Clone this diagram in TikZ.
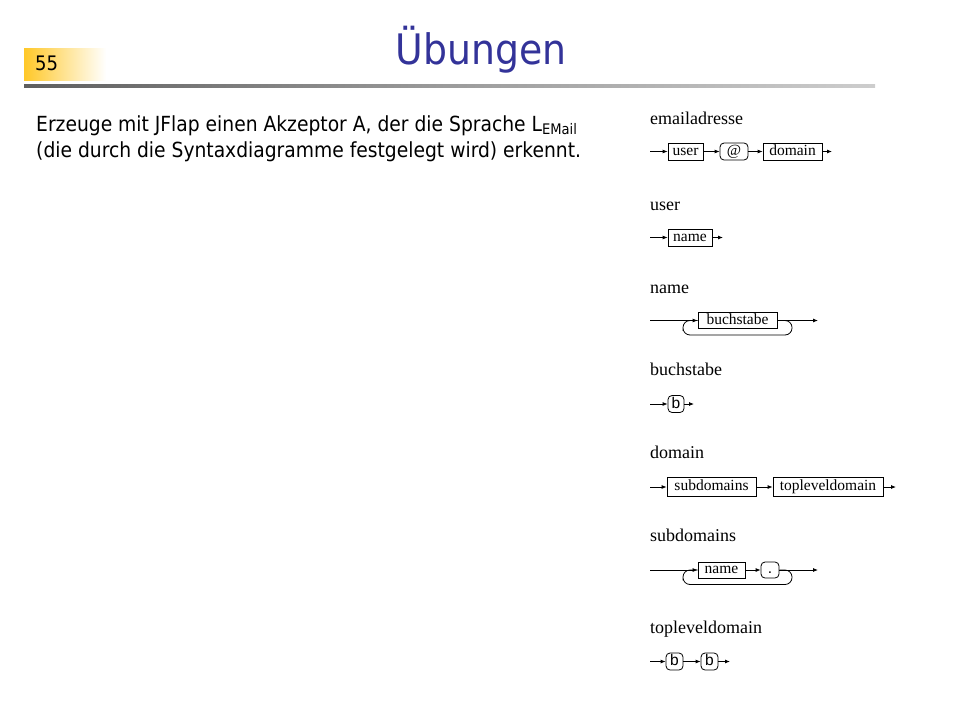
\documentclass[tikz,border=0pt]{standalone}
\usepackage{fontspec}
\setmainfont{DejaVu Sans Condensed}
\newfontfamily\diagserif{Liberation Serif}
\newfontfamily\diagsans{Liberation Sans}
\usetikzlibrary{arrows.meta,calc}
\definecolor{titleblue}{RGB}{51,51,153}
\definecolor{gold}{RGB}{255,200,40}
\definecolor{ruledark}{RGB}{34,34,34}
\pgfdeclarehorizontalshading{ruleshade}{100bp}{color(0bp)=(ruledark); color(50bp)=(ruledark!45); color(100bp)=(white)}
\tikzset{
  sbox/.style={draw, line width=0.8pt, inner sep=0pt, minimum height=17pt, text height=12pt, text depth=5pt, font=\diagserif\fontsize{15.5}{15.5}\selectfont},
  tallbox/.style={minimum height=19pt, text height=13pt, text depth=6pt},
  shortbox/.style={minimum height=16pt, text height=11.5pt, text depth=4.5pt},
  rbox/.style={sbox, rounded corners=4pt},
  rsbox/.style={rbox, text height=12.5pt, text depth=4.5pt, font=\diagsans\fontsize{15.5}{15.5}\selectfont},
  conn/.style={line width=0.8pt},
  arr/.style={conn, -{Latex[length=5pt,width=4pt]}},
  loopline/.style={conn, rounded corners=7pt},
  dlabel/.style={anchor=base west, inner sep=0pt, font=\diagserif\fontsize{18}{18}\selectfont},
  body/.style={anchor=base west, inner sep=0pt, font=\fontsize{20.8}{24}\selectfont}
}
\begin{document}
\begin{tikzpicture}[x=1pt,y=-1pt]
\useasboundingbox (0,0) rectangle (960,720);
% header
\shade[left color=gold, right color=white] (24,48) rectangle (106,80);
\node[anchor=west, inner sep=0pt, font=\fontsize{20}{20}\selectfont] (num) at (35,63.5) {55};
\shade[shading=ruleshade] (24,84.5) rectangle (875,87.5);
\node[inner sep=0pt, text=titleblue, font=\fontsize{42}{42}\selectfont] (title) at (481,50) {Übungen};
% body text
\node[body] (t1) at (36,131) {Erzeuge mit JFlap einen Akzeptor A, der die Sprache L\textsubscript{EMail}};
\node[body] (t2) at (36,157) {(die durch die Syntaxdiagramme festgelegt wird) erkennt.};

% emailadresse
\node[dlabel] (l1) at (650,124) {emailadresse};
\coordinate (e0) at (650,151.5);
\node[sbox, minimum width=35pt] (eu) at (685.5,151.5) {user};
\node[rbox, minimum width=28pt] (ea) at (734,151.5) {@};
\node[sbox, minimum width=59pt] (ed) at (792.5,151.5) {domain};
\coordinate (e1) at (832,151.5);
\draw[arr] (e0) -- (eu.west);
\draw[arr] (eu.east) -- (ea.west);
\draw[arr] (ea.east) -- (ed.west);
\draw[arr] (ed.east) -- (e1);

% user
\node[dlabel] (l2) at (650,210) {user};
\coordinate (u0) at (650,237.5);
\node[sbox, minimum width=44pt] (un) at (690,237.5) {name};
\coordinate (u1) at (723,237.5);
\draw[arr] (u0) -- (un.west);
\draw[arr] (un.east) -- (u1);

% name
\node[dlabel] (l3) at (650,293) {name};
\coordinate (n0) at (650,320.5);
\node[sbox, shortbox, minimum width=79pt] (nb) at (737.5,320.5) {buchstabe};
\coordinate (n1) at (818,320.5);
\coordinate (nr) at (792,335);
\coordinate (nl) at (683,335);
\draw[arr] (n0) -- (nb.west);
\draw[arr] (nb.east) -- (n1);
\draw[loopline] (nb.east) -| (nr) -| (nl) |- (nb.west);

% buchstabe
\node[dlabel] (l4) at (650,375) {buchstabe};
\coordinate (b0) at (650,404);
\node[rsbox, minimum width=16pt] (bb) at (676,404) {b};
\coordinate (b1) at (694,404);
\draw[arr] (b0) -- (bb.west);
\draw[arr] (bb.east) -- (b1);

% domain
\node[dlabel] (l5) at (650,458) {domain};
\coordinate (d0) at (650,487);
\node[sbox, tallbox, minimum width=89pt] (ds) at (711.5,487) {subdomains};
\node[sbox, tallbox, minimum width=110pt] (dt) at (828,487) {topleveldomain};
\coordinate (d1) at (896,487);
\draw[arr] (d0) -- (ds.west);
\draw[arr] (ds.east) -- (dt.west);
\draw[arr] (dt.east) -- (d1);

% subdomains
\node[dlabel] (l6) at (650,541) {subdomains};
\coordinate (s0) at (650,570);
\node[sbox, shortbox, minimum width=47pt] (sn) at (721.5,570) {name};
\node[rsbox, shortbox, minimum width=18pt] (sd) at (770,570) {.};
\coordinate (s1) at (818,570);
\coordinate (sr) at (792,584.5);
\coordinate (sl) at (683,584.5);
\draw[arr] (s0) -- (sn.west);
\draw[arr] (sn.east) -- (sd.west);
\draw[arr] (sd.east) -- (s1);
\draw[loopline] (sd.east) -| (sr) -| (sl) |- (sn.west);

% topleveldomain
\node[dlabel] (l7) at (650,633) {topleveldomain};
\coordinate (p0) at (650,661.5);
\node[rsbox, minimum width=17pt] (pb1) at (674.5,661.5) {b};
\node[rsbox, minimum width=17pt] (pb2) at (709.5,661.5) {b};
\coordinate (p1) at (730,661.5);
\draw[arr] (p0) -- (pb1.west);
\draw[arr] (pb1.east) -- (pb2.west);
\draw[arr] (pb2.east) -- (p1);
\end{tikzpicture}
\end{document}
